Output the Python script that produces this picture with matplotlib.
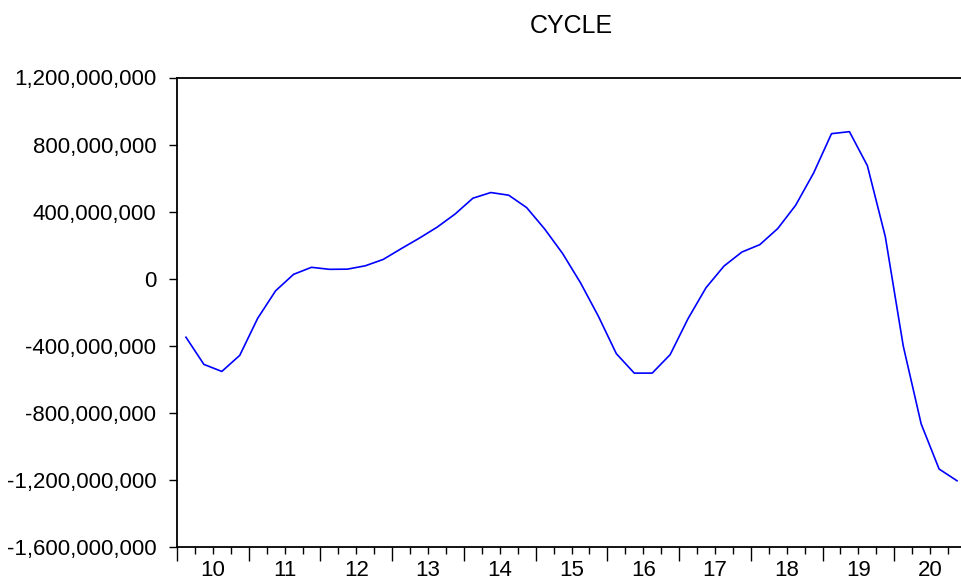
import matplotlib
matplotlib.use("Agg")
import matplotlib.pyplot as plt
from matplotlib.ticker import FixedLocator, FuncFormatter

# Quarterly data 2010Q1 - 2020Q4
years = list(range(2010, 2021))
year_labels = ["10", "11", "12", "13", "14", "15", "16", "17", "18", "19", "20"]
cycle = [
    -349e6, -511e6, -553e6, -457e6,
    -236e6, -72e6, 26e6, 68e6,
    56e6, 57e6, 77e6, 115e6,
    179e6, 241e6, 307e6, 385e6,
    480e6, 514e6, 498e6, 424e6,
    297e6, 151e6, -24e6, -224e6,
    -447e6, -563e6, -563e6, -453e6,
    -238e6, -54e6, 75e6, 159e6,
    203e6, 299e6, 438e6, 630e6,
    865e6, 877e6, 674e6, 251e6,
    -401e6, -866e6, -1135e6, -1205e6,
]
y_ticks = [-1.6e9, -1.2e9, -0.8e9, -0.4e9, 0, 0.4e9, 0.8e9, 1.2e9]

plt.rcParams['font.family'] = ['Liberation Sans', 'DejaVu Sans']

W, H = 961, 580
fig = plt.figure(figsize=(W / 100, H / 100), dpi=100)
ax = fig.add_axes([177 / W, (H - 547) / H, 789 / W, (547 - 77.5) / H])

x = list(range(len(cycle)))
ax.plot(x, cycle, color='#0000FF', linewidth=1.2)

ax.set_xlim(-0.5, len(cycle) - 0.5)
ax.set_ylim(-1.6e9, 1.2e9)

ax.set_yticks(y_ticks)
ax.yaxis.set_major_formatter(FuncFormatter(lambda v, p: f"{int(round(v)):,}"))
ax.tick_params(axis='y', direction='out', length=6, width=1.0, pad=9,
               labelsize=16, colors='black')

# x-axis: year boundaries (long ticks), quarter boundaries (short ticks)
n_years = len(years)
ax.xaxis.set_major_locator(FixedLocator([4 * k - 0.5 for k in range(n_years + 1)]))
ax.xaxis.set_minor_locator(FixedLocator([q - 0.5 for q in range(len(cycle) + 1)]))
ax.tick_params(axis='x', which='major', direction='out', length=10, width=1.0,
               labelbottom=False)
ax.tick_params(axis='x', which='minor', direction='out', length=5, width=1.0)

sec = ax.secondary_xaxis('bottom')
sec.set_xticks([4 * k + 1.5 for k in range(n_years)])
sec.set_xticklabels(year_labels)
sec.tick_params(axis='x', length=0, pad=9, labelsize=16)
sec.spines['bottom'].set_visible(False)

for s in ['left', 'bottom', 'top', 'right']:
    ax.spines[s].set_linewidth(1.3)
    ax.spines[s].set_color('black')

fig.text(571 / W, 1 - 33 / H, "CYCLE", ha='center', va='baseline', fontsize=18)

fig.savefig("out.png", dpi=100)
